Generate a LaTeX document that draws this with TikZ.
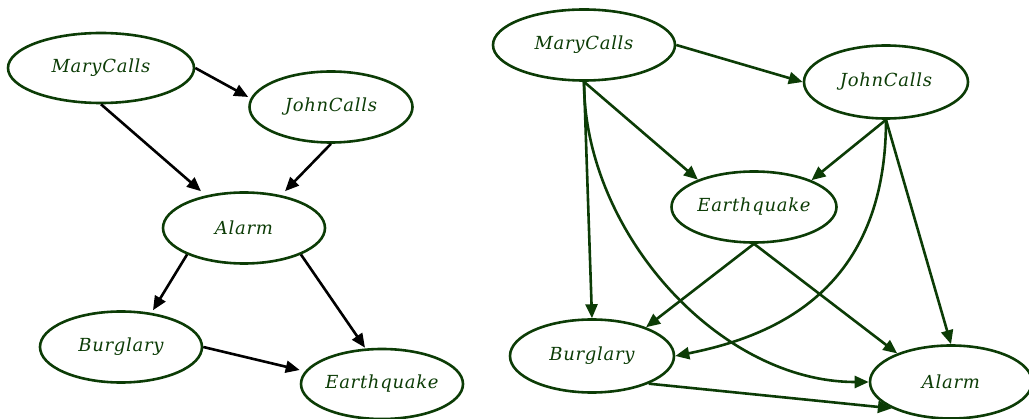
\documentclass[tikz,border=0pt]{standalone}
\usepackage{fontspec}
\usetikzlibrary{shapes.geometric,arrows.meta}
\newfontfamily\lblfont[LetterSpace=4]{DejaVu Serif}
\definecolor{dgreen}{RGB}{12,60,6}
\tikzset{
  ell/.style={ellipse, draw=dgreen, line width=2.6pt, inner sep=0pt,
    font=\lblfont\itshape\fontsize{18}{21}\selectfont, text=dgreen},
  blackarr/.style={line width=2.6pt, black, -{Triangle[length=14pt,width=12pt]}},
  greenarr/.style={line width=2.6pt, dgreen, -{Triangle[length=14pt,width=12pt]}}
}
\begin{document}
\begin{tikzpicture}[x=1pt,y=-1pt]
\useasboundingbox (0,0) rectangle (1029,419);
% left graph
\node[ell, minimum width=186pt, minimum height=70pt] (LM) at (101,68) {MaryCalls};
\node[ell, minimum width=163pt, minimum height=71pt] (LJ) at (331,107) {JohnCalls};
\node[ell, minimum width=162pt, minimum height=71pt] (LA) at (244,228) {Alarm};
\node[ell, minimum width=162pt, minimum height=71pt] (LB) at (121,347) {Burglary};
\node[ell, minimum width=162pt, minimum height=70pt] (LE) at (382,384) {Earthquake};
\draw[blackarr] (LM.east) -- ([yshift=10pt]LJ.west);
\draw[blackarr] (LM.south) -- ([xshift=-43pt]LA.north);
\draw[blackarr] (LJ.south) -- ([xshift=41pt]LA.north);
\draw[blackarr] (LA.205) -- ([xshift=32pt]LB.north);
\draw[blackarr] (LA.-25) -- ([xshift=-17pt]LE.north);
\draw[blackarr] (LB.east) -- ([yshift=14pt]LE.west);
% right graph
\node[ell, minimum width=182pt, minimum height=71pt] (RM) at (584,45) {MaryCalls};
\node[ell, minimum width=164pt, minimum height=73pt] (RJ) at (886,82) {JohnCalls};
\node[ell, minimum width=165pt, minimum height=71pt] (RE) at (754,207) {Earthquake};
\node[ell, minimum width=164pt, minimum height=73pt] (RB) at (592,356) {Burglary};
\node[ell, minimum width=162pt, minimum height=73pt] (RA) at (951,382) {Alarm};
\draw[greenarr] (RM.east) -- (RJ.west);
\draw[greenarr] (RM.south) -- (RE.154);
\draw[greenarr] (RM.south) -- (RB.north);
\draw[greenarr] (RM.south) .. controls +(0,150) and +(-150,0) .. (RA.west);
\draw[greenarr] (RJ.south) -- (RE.25);
\draw[greenarr] (RJ.south) .. controls +(0,170) and +(100,-20) .. (RB.east);
\draw[greenarr] (RJ.south) -- (RA.north);
\draw[greenarr] (RE.south) -- (RB.28);
\draw[greenarr] (RE.south) -- (RA.152);
\draw[greenarr] (RB.-26) -- (RA.204);
\end{tikzpicture}
\end{document}
